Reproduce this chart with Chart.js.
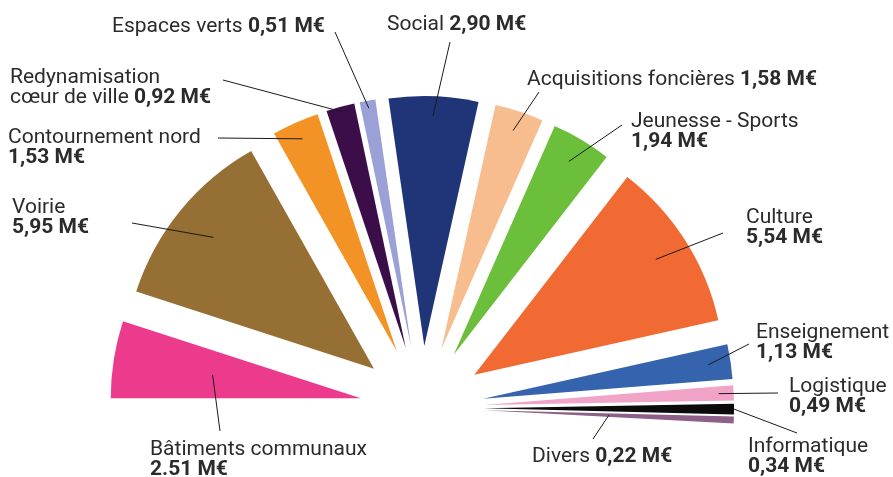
<!DOCTYPE html>
<html>
<head>
<meta charset="utf-8">
<script src="https://cdn.jsdelivr.net/npm/chart.js@4/dist/chart.umd.min.js"></script>
<style>
  html, body { margin: 0; padding: 0; background: #fff; }
  #wrap { position: relative; width: 893px; height: 477px; }
</style>
</head>
<body>
<div id="wrap"><canvas id="budgetChart"></canvas></div>
<script>
  // Budget categories, clockwise from the left
  const categories = [
    ['Bâtiments communaux'],
    ['Voirie'],
    ['Contournement nord'],
    ['Redynamisation', 'cœur de ville'],
    ['Espaces verts'],
    ['Social'],
    ['Acquisitions foncières'],
    ['Jeunesse - Sports'],
    ['Culture'],
    ['Enseignement'],
    ['Logistique'],
    ['Informatique'],
    ['Divers']
  ];
  const amounts = [2.51, 5.95, 1.53, 0.92, 0.51, 2.90, 1.58, 1.94, 5.54, 1.13, 0.49, 0.34, 0.22];
  const amountLabels = [
    '2.51 M€', '5,95 M€', '1,53 M€', '0,92 M€', '0,51 M€', '2,90 M€', '1,58 M€',
    '1,94 M€', '5,54 M€', '1,13 M€', '0,49 M€', '0,34 M€', '0,22 M€'
  ];
  const colors = [
    '#ec3b8d', '#956f33', '#f39325', '#3b0e4a', '#9ba1d6', '#1f3577', '#f8bd8f',
    '#6cbf3b', '#f26a33', '#3663ad', '#f1a4c7', '#0b0b0b', '#8c6089'
  ];

  // Label placement: text origin (x, baseline y), leader end (lx, ly),
  // f = how far into the slice the leader reaches (fraction of radius)
  const labelLayout = [
    { x: 150, y: 455, lx: 220, ly: 431, f: 0.6 },
    { x: 12,  y: 213, lx: 132, ly: 223, f: 0.83 },
    { x: 8,   y: 143, lx: 218, ly: 138, f: 0.93 },
    { x: 10,  y: 83,  lx: 223, ly: 80,  f: 0.98, inline: true },
    { x: 112, y: 32,  lx: 335, ly: 32,  f: 0.97, inline: true },
    { x: 387, y: 30,  lx: 450, ly: 42,  f: 0.92, inline: true },
    { x: 527, y: 85,  lx: 539, ly: 92,  f: 0.92, inline: true },
    { x: 631, y: 127, lx: 622, ly: 125, f: 0.9 },
    { x: 746, y: 223, lx: 723, ly: 233, f: 0.86 },
    { x: 756, y: 338, lx: 749, ly: 344, f: 0.91 },
    { x: 789, y: 392, lx: 778, ly: 393, f: 0.94 },
    { x: 748, y: 452, lx: 797, ly: 433, f: 1.0 },
    { x: 532, y: 462, lx: 593, ly: 439, f: 0.5, inline: true }
  ];

  const FONT_FAMILY = 'Roboto, "DejaVu Sans", sans-serif';
  const FONT_SIZE = 21;
  const LINE_HEIGHT = 20;
  const TEXT_COLOR = '#2b2b2b';

  // Arc that is pushed out by its full offset without growing its radius
  class OffsetArc extends Chart.ArcElement {
    draw(ctx) {
      const {x, y, startAngle, endAngle, outerRadius} = this;
      const options = this.options;
      const mid = (startAngle + endAngle) / 2;
      const shift = options.offset || 0;
      ctx.save();
      ctx.translate(Math.cos(mid) * shift, Math.sin(mid) * shift);
      ctx.beginPath();
      ctx.moveTo(x, y);
      ctx.arc(x, y, outerRadius, startAngle, endAngle);
      ctx.closePath();
      ctx.fillStyle = options.backgroundColor;
      ctx.fill();
      ctx.restore();
    }
  }
  OffsetArc.id = 'offsetArc';

  class ExplodedPieController extends Chart.PieController {}
  ExplodedPieController.id = 'explodedPie';
  ExplodedPieController.defaults = { dataElementType: 'offsetArc' };
  ExplodedPieController.overrides = Chart.PieController.overrides;

  Chart.register(OffsetArc, ExplodedPieController);

  // Draws the leader lines and the two-weight labels
  const calloutPlugin = {
    id: 'callouts',
    afterDatasetsDraw(chart) {
      const ctx = chart.ctx;
      const meta = chart.getDatasetMeta(0);
      ctx.save();
      meta.data.forEach((arc, i) => {
        const layout = labelLayout[i];
        const p = arc.getProps(['x', 'y', 'startAngle', 'endAngle', 'outerRadius'], true);
        const mid = (p.startAngle + p.endAngle) / 2;
        const dist = arc.options.offset + p.outerRadius * layout.f;
        const ax = p.x + Math.cos(mid) * dist;
        const ay = p.y + Math.sin(mid) * dist;

        ctx.strokeStyle = '#1a1a1a';
        ctx.lineWidth = 1;
        ctx.beginPath();
        ctx.moveTo(layout.lx, layout.ly);
        ctx.lineTo(ax, ay);
        ctx.stroke();

        ctx.fillStyle = TEXT_COLOR;
        ctx.textBaseline = 'alphabetic';
        ctx.textAlign = 'left';
        const lines = categories[i];
        let y = layout.y;
        lines.forEach((line, j) => {
          ctx.font = `400 ${FONT_SIZE}px ${FONT_FAMILY}`;
          ctx.fillText(line, layout.x, y);
          if (layout.inline && j === lines.length - 1) {
            const w = ctx.measureText(line + ' ').width;
            ctx.font = `700 ${FONT_SIZE}px ${FONT_FAMILY}`;
            ctx.fillText(amountLabels[i], layout.x + w, y);
          }
          y += LINE_HEIGHT;
        });
        if (!layout.inline) {
          ctx.font = `700 ${FONT_SIZE}px ${FONT_FAMILY}`;
          ctx.fillText(amountLabels[i], layout.x, y);
        }
      });
      ctx.restore();
    }
  };

  new Chart(document.getElementById('budgetChart'), {
    type: 'explodedPie',
    data: {
      labels: categories.map(c => c.join(' ')),
      datasets: [{
        data: amounts,
        backgroundColor: colors,
        borderWidth: 0,
        offset: 62,
        hoverOffset: 0,
        clip: false
      }]
    },
    options: {
      responsive: true,
      maintainAspectRatio: false,
      devicePixelRatio: 1,
      animation: false,
      events: [],
      rotation: -90,
      circumference: 183,
      radius: 250,
      layout: {
        padding: { left: 0, right: 49, top: 102, bottom: 0 }
      },
      plugins: {
        legend: { display: false },
        tooltip: { enabled: false }
      }
    },
    plugins: [calloutPlugin]
  });
</script>
</body>
</html>
